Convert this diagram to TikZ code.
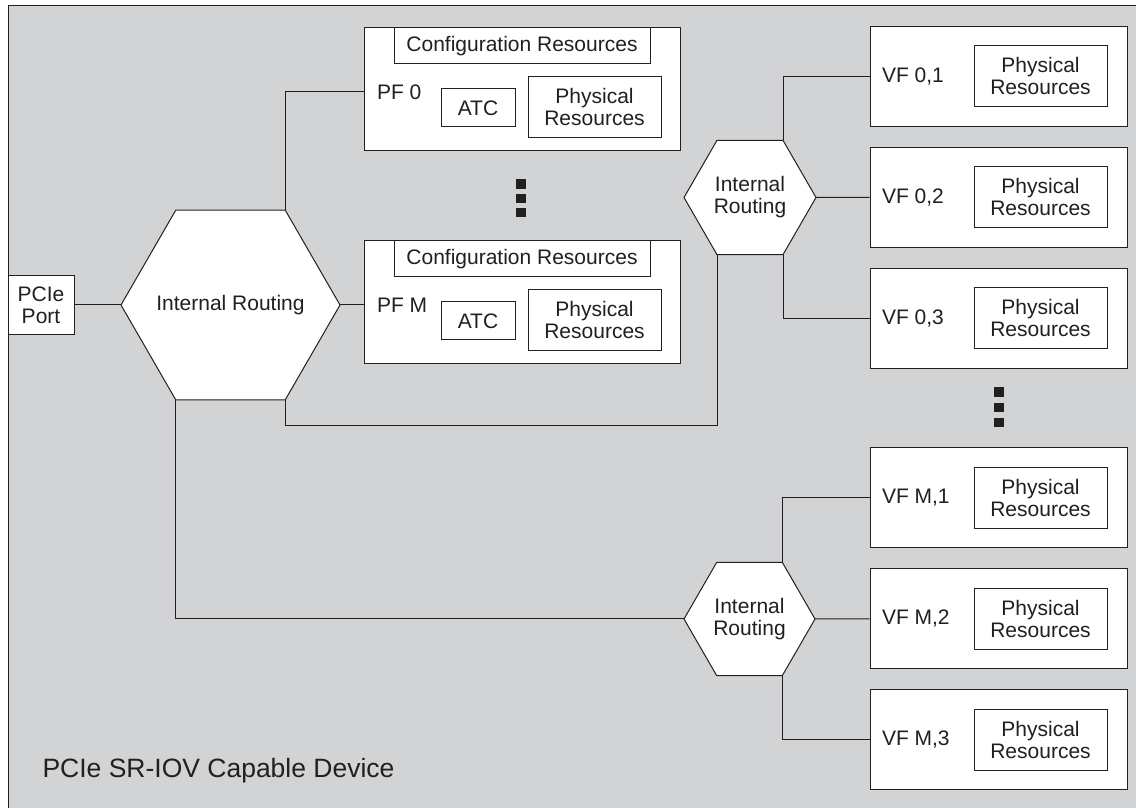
\documentclass[tikz,border=0pt]{standalone}
\usepackage{fontspec}
\setmainfont{Liberation Sans}
\usetikzlibrary{shapes, positioning, backgrounds}

\definecolor{devgray}{RGB}{209,211,212}
\definecolor{ink}{RGB}{35,31,32}

\begin{document}
\begin{tikzpicture}[x=1pt, y=1pt, on grid, line width=1pt, color=ink,
    every node/.style={font=\fontsize{21}{22}\selectfont},
    func/.style={draw, fill=white, minimum width=316pt, minimum height=123pt},
    vfunc/.style={draw, fill=white, minimum width=257pt, minimum height=100pt},
    cfg/.style={draw, fill=white, inner sep=0pt, minimum width=256pt, minimum height=36pt},
    atcbox/.style={draw, fill=white, inner sep=0pt, minimum width=74pt, minimum height=38pt},
    res/.style={draw, fill=white, align=center, inner sep=0pt, minimum width=133pt, minimum height=61pt},
    router/.style={draw, fill=white, regular polygon, regular polygon sides=6, inner sep=0pt, outer sep=0pt, align=center},
    fnlabel/.style={inner sep=0pt},
    dotsq/.style={fill, inner sep=0pt, minimum width=10pt, minimum height=9.5pt}]
      \useasboundingbox (0,0) rectangle (1136,808);
      % device frame
      \fill[devgray] (8,0) rectangle (1136,802);
      \draw (8,0) |- (1136,802);

      \node[router, minimum size=219pt] (ir) at (230.5,503) {};
      \node[align=center] (ir_txt) at (ir) {Internal Routing};
      \node[draw, fill=white, align=center, inner sep=0pt, minimum width=66pt, minimum height=59pt]
            (port) [left=189.5pt of ir] {PCIe\\Port};

      % physical functions
      \node[func] (pf_0) at (522,718.5) {};
      \node[func] (pf_M) [below=213pt of pf_0] {};
      \foreach \n in {0,M} {
        \node[cfg, anchor=north] (pf_\n_cfg) at (pf_\n.north) {Configuration Resources};
        \node[fnlabel] (pf_\n_lbl) [below right=2.5pt and 13pt of pf_\n.west, anchor=west] {PF \n};
        \node[atcbox] (pf_\n_atc) [below left=18.5pt and 44pt of pf_\n] {ATC};
        \node[res] (pf_\n_res) [below right=18pt and 72.5pt of pf_\n] {Physical\\Resources};
      }

      % routing to the virtual functions
      \node[router, minimum size=132pt] (rt_0) at (750,610.5) {Internal\\Routing};
      \node[router, minimum size=131pt] (rt_M) at (749.5,189) {Internal\\Routing};

      \node[vfunc] (vf_02) [right=248.5pt of rt_0] {};
      \node[vfunc] (vf_01) [above=121pt of vf_02] {};
      \node[vfunc] (vf_03) [below=121pt of vf_02] {};
      \node[vfunc] (vf_M2) [right=249pt of rt_M] {};
      \node[vfunc] (vf_M1) [above=121pt of vf_M2] {};
      \node[vfunc] (vf_M3) [below=121pt of vf_M2] {};
      \foreach \g/\i in {0/1, 0/2, 0/3, M/1, M/2, M/3} {
        \node[fnlabel] (vf_\g\i_lbl) [right=12pt of vf_\g\i.west, anchor=west] {VF \g,\i};
        \node[res] (vf_\g\i_res) [right=42pt of vf_\g\i] {Physical\\Resources};
      }

      % ellipsis marks
      \foreach \k in {0,1,2} {
        \node[dotsq] (pf_dot\k) at (521, 624-14.3*\k) {};
        \node[dotsq] (vf_dot\k) at (998.5, 416-15.3*\k) {};
      }

      \node[anchor=base west, inner sep=0pt, font=\fontsize{26.5}{30}\selectfont]
            (dev) at (42,30) {PCIe SR-IOV Capable Device};

      % wiring
      \draw (port) -- (ir);
      \draw (ir.60) |- (pf_0_lbl -| pf_0.west);
      \draw (ir.0) -- (ir.0 -| pf_M.west);
      \draw (ir.-60) -- ++(0,-26) -| (rt_0.-120);
      \draw (ir.-120) |- (rt_M.180);
      \foreach \g in {0,M} {
        \draw (rt_\g.60) |- (vf_\g1.west);
        \draw (rt_\g.0) -- (vf_\g2.west);
        \draw (rt_\g.-60) |- (vf_\g3.west);
      }
\end{tikzpicture}
\end{document}
